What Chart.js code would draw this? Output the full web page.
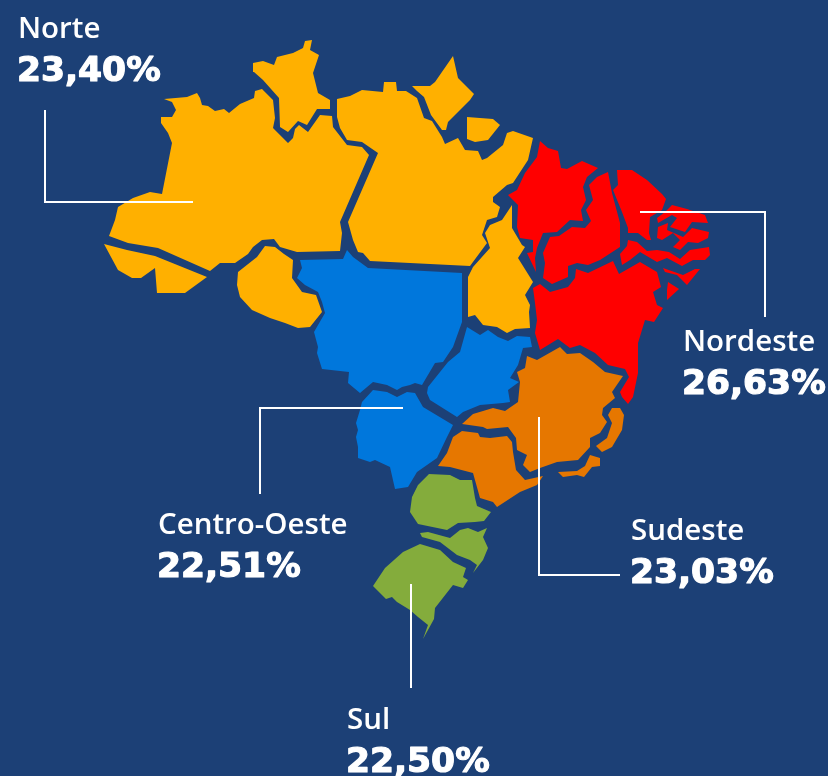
<!DOCTYPE html>
<html lang="pt-BR">
<head>
<meta charset="utf-8">
<title>Regiões do Brasil</title>
<style>
  html, body { margin: 0; padding: 0; background: #1c4076; }
  #wrap { width: 828px; height: 776px; }
  canvas { display: block; }
</style>
<script src="https://cdn.jsdelivr.net/npm/chart.js@4"></script>
</head>
<body>
<div id="wrap"><canvas id="map" width="828" height="776"></canvas></div>
<script>
// Outlines, one list per state.
const AM = [[164,99],[187,97],[197,93],[200,98],[202,105],[208,106],[215,111],[224,109],[229,113],[240,104],[254,98],[255,91],[262,89],[273,100],[275,118],[273,128],[288,143],[293,138],[295,129],[299,125],[308,132],[320,115],[332,116],[333,127],[347,145],[362,147],[369,155],[340,222],[342,233],[340,251],[297,252],[280,247],[274,239],[262,240],[253,247],[248,254],[235,263],[220,263],[210,271],[158,248],[128,243],[109,236],[115,220],[118,207],[133,198],[150,192],[162,194],[172,143],[168,133],[161,123],[161,117],[172,117],[176,110],[172,102]];
const AC = [[104,244],[118,270],[132,278],[141,278],[155,268],[157,293],[185,293],[207,277],[155,256],[127,250]];
const RO = [[238,272],[257,257],[265,246],[275,247],[284,254],[293,260],[292,278],[302,292],[316,295],[322,312],[310,327],[298,328],[285,323],[270,318],[252,310],[240,297],[237,285]];
const RR = [[305,41],[312,40],[310,50],[319,55],[313,73],[318,93],[330,100],[330,109],[317,109],[307,125],[298,121],[288,132],[280,127],[279,98],[263,80],[254,72],[253,63],[263,61],[274,65],[277,57],[293,53],[303,48]];
const PA = [[337,99],[350,96],[362,90],[383,92],[384,82],[396,82],[397,91],[406,91],[417,98],[424,118],[432,121],[442,137],[445,144],[458,138],[465,150],[478,151],[482,160],[487,158],[503,145],[507,133],[513,131],[533,138],[528,160],[513,183],[507,185],[493,197],[493,202],[500,207],[497,217],[487,220],[482,235],[487,243],[470,266],[370,261],[363,253],[358,252],[353,240],[348,222],[378,153],[362,142],[347,140],[340,128],[337,117]];
const AP = [[412,86],[430,86],[435,82],[453,56],[458,78],[474,94],[470,100],[448,122],[446,130],[442,130],[431,115],[424,97],[417,91]];
const MARAJO = [[467,117],[493,119],[500,125],[488,140],[475,142],[467,139]];
const TO = [[512,205],[512,228],[522,245],[525,247],[518,258],[533,282],[525,295],[530,305],[529,312],[530,328],[515,329],[507,333],[497,327],[483,325],[475,315],[468,317],[468,277],[473,267],[490,248],[485,233],[490,225],[502,220]];

const MA = [[540,141],[548,148],[558,151],[561,168],[567,169],[582,161],[598,168],[587,177],[583,187],[586,200],[581,210],[583,221],[570,220],[557,232],[543,233],[537,248],[535,258],[536,272],[527,253],[533,252],[533,240],[520,238],[517,227],[518,205],[508,195],[517,190],[525,173],[537,157]];
const PI = [[608,172],[612,193],[620,223],[620,247],[600,260],[588,265],[577,263],[568,266],[568,277],[552,284],[543,278],[545,263],[543,253],[550,237],[559,236],[572,227],[585,228],[591,221],[586,210],[593,200],[589,185],[597,177]];
const CE = [[617,170],[632,170],[647,180],[662,194],[666,199],[662,210],[650,217],[649,233],[651,240],[647,240],[638,233],[628,233],[628,228],[622,212],[613,190],[618,185]];
const RN = [[672,205],[687,209],[705,215],[708,223],[692,222],[685,232],[670,227],[677,218],[672,215],[658,223],[657,218],[665,212]];
const PB = [[658,227],[668,223],[667,230],[683,237],[692,228],[709,232],[708,238],[698,243],[688,242],[680,250],[673,247],[680,240],[673,233],[662,240],[657,238]];
const PE = [[628,240],[637,242],[647,251],[657,250],[669,252],[680,259],[690,250],[709,247],[710,255],[705,260],[693,260],[682,266],[667,258],[657,262],[640,252],[630,260],[622,265],[620,254],[627,246]];
const AL = [[663,268],[683,275],[695,269],[700,269],[687,285],[677,275],[665,272]];
const SE = [[668,282],[679,289],[667,300],[667,290]];
const BA = [[533,288],[540,284],[550,292],[568,287],[575,278],[576,269],[588,273],[613,261],[619,274],[640,262],[657,272],[661,287],[653,292],[657,305],[663,308],[654,322],[645,320],[638,343],[638,373],[633,397],[628,404],[622,397],[620,392],[629,377],[625,369],[608,365],[595,353],[580,345],[570,348],[558,339],[540,350],[535,333],[537,320],[535,303]];

const MT = [[300,260],[343,259],[347,250],[353,257],[368,268],[462,273],[462,322],[453,347],[443,362],[435,363],[422,385],[415,383],[410,385],[402,387],[397,390],[387,385],[373,382],[360,393],[348,383],[349,372],[322,369],[317,353],[318,347],[314,332],[325,313],[322,302],[318,292],[305,285],[297,278],[302,268]];
const GO = [[467,327],[480,335],[488,330],[498,337],[508,341],[517,336],[530,337],[532,347],[523,348],[518,365],[510,378],[519,382],[508,390],[510,402],[503,403],[480,405],[463,412],[457,417],[430,400],[427,393],[428,387],[448,362],[460,352]];
const MS = [[362,402],[373,390],[387,392],[397,397],[407,392],[415,393],[423,407],[453,425],[447,437],[437,458],[417,472],[408,487],[395,489],[390,467],[375,460],[370,462],[358,458],[358,447],[356,437],[358,430],[356,423],[360,410]];

const MG = [[560,347],[567,354],[580,353],[593,362],[605,372],[623,376],[612,392],[615,398],[603,408],[602,415],[607,422],[600,433],[590,438],[590,447],[578,460],[557,462],[540,468],[530,472],[523,465],[527,455],[517,450],[516,438],[508,427],[487,429],[483,427],[462,424],[473,414],[493,408],[505,411],[518,402],[520,382],[517,372],[525,368],[527,356],[537,360]];
const ES = [[612,408],[620,408],[624,415],[622,430],[612,447],[602,452],[596,446],[607,438],[612,423],[608,415]];
const RJ = [[590,455],[600,458],[600,466],[592,467],[584,477],[577,475],[563,477],[558,472],[577,471],[585,466]];
const SP = [[462,431],[478,433],[480,437],[490,438],[507,436],[512,442],[513,452],[516,470],[525,480],[543,476],[537,485],[520,492],[497,507],[493,502],[480,498],[473,473],[450,467],[438,466],[447,453],[453,437]];

const PR = [[429,474],[450,475],[460,480],[472,480],[475,498],[477,506],[491,512],[484,521],[475,522],[458,523],[447,530],[418,524],[410,512],[412,497],[418,485]];
const SC = [[420,533],[428,532],[450,538],[460,530],[468,528],[478,532],[487,528],[483,537],[488,548],[483,560],[473,573],[477,565],[470,560],[457,555],[440,542],[422,537]];
const RS = [[420,544],[440,550],[453,562],[466,568],[463,577],[468,580],[463,588],[453,585],[435,608],[434,619],[423,639],[428,625],[418,617],[410,610],[397,602],[392,597],[386,599],[373,586],[385,568],[403,552]];

const regionNames = ["Norte", "Nordeste", "Centro-Oeste", "Sudeste", "Sul"];
const regionValues = ["23,40%", "26,63%", "22,51%", "23,03%", "22,50%"];
const regionStates = [
  [AM, AC, RO, RR, PA, AP, MARAJO, TO],
  [MA, PI, CE, RN, PB, PE, AL, SE, BA],
  [MT, GO, MS],
  [MG, ES, RJ, SP],
  [PR, SC, RS],
];

// Leader lines from each label into its region
const leaderNorte = [[45,110],[45,202],[193,202]];
const leaderNordeste = [[640,212],[765,212],[765,317]];
const leaderCentro = [[403,408],[260,408],[260,494]];
const leaderSudeste = [[539,417],[539,575],[620,575]];
const leaderSul = [[411,584],[411,688]];
const leaders = [leaderNorte, leaderNordeste, leaderCentro, leaderSudeste, leaderSul];

const regionColors = ["#ffb000", "#ff0000", "#0077dc", "#e67700", "#84ac3c"];
const labelAnchors = [[18,38],[683,351],[158,534],[631,540],[347,729]];

function toPoints(list) {
  return list.map(([x, y]) => ({ x, y }));
}

// Chart.js paints the first dataset last, so the leaders go in first to sit on top of the map
const datasets = [];
leaders.forEach((line) => {
  datasets.push({
    data: toPoints(line),
    showLine: true,
    fill: false,
    tension: 0,
    borderColor: "#ffffff",
    borderWidth: 2,
    pointRadius: 0,
  });
});
regionStates.forEach((states, i) => {
  states.forEach((state) => {
    datasets.push({
      data: toPoints([...state, state[0]]),
      showLine: true,
      fill: "shape",
      tension: 0,
      borderWidth: 0,
      pointRadius: 0,
      backgroundColor: regionColors[i],
    });
  });
});

const regionLabels = {
  id: "regionLabels",
  afterDatasetsDraw(chart) {
    const { ctx, scales } = chart;
    ctx.save();
    ctx.fillStyle = "#ffffff";
    ctx.strokeStyle = "#ffffff";
    ctx.lineJoin = "round";
    ctx.textAlign = "left";
    ctx.textBaseline = "alphabetic";
    regionNames.forEach((name, i) => {
      const x = scales.x.getPixelForValue(labelAnchors[i][0]);
      const y = scales.y.getPixelForValue(labelAnchors[i][1]);
      ctx.font = '600 29.5px "Open Sans", sans-serif';
      ctx.fillText(name, x, y);
      ctx.font = 'bold 34.5px "DejaVu Sans", sans-serif';
      ctx.lineWidth = 1.2;
      ctx.fillText(regionValues[i], x - 1, y + 43);
      ctx.strokeText(regionValues[i], x - 1, y + 43);
    });
    ctx.restore();
  },
};

new Chart(document.getElementById("map"), {
  type: "scatter",
  data: { datasets },
  options: {
    responsive: false,
    animation: false,
    layout: { padding: 0 },
    plugins: {
      legend: { display: false },
      tooltip: { enabled: false },
      title: { display: false },
    },
    events: [],
    scales: {
      x: { type: "linear", min: 0, max: 828, display: false },
      y: { type: "linear", min: 0, max: 776, reverse: true, display: false },
    },
  },
  plugins: [regionLabels],
});
</script>
</body>
</html>
